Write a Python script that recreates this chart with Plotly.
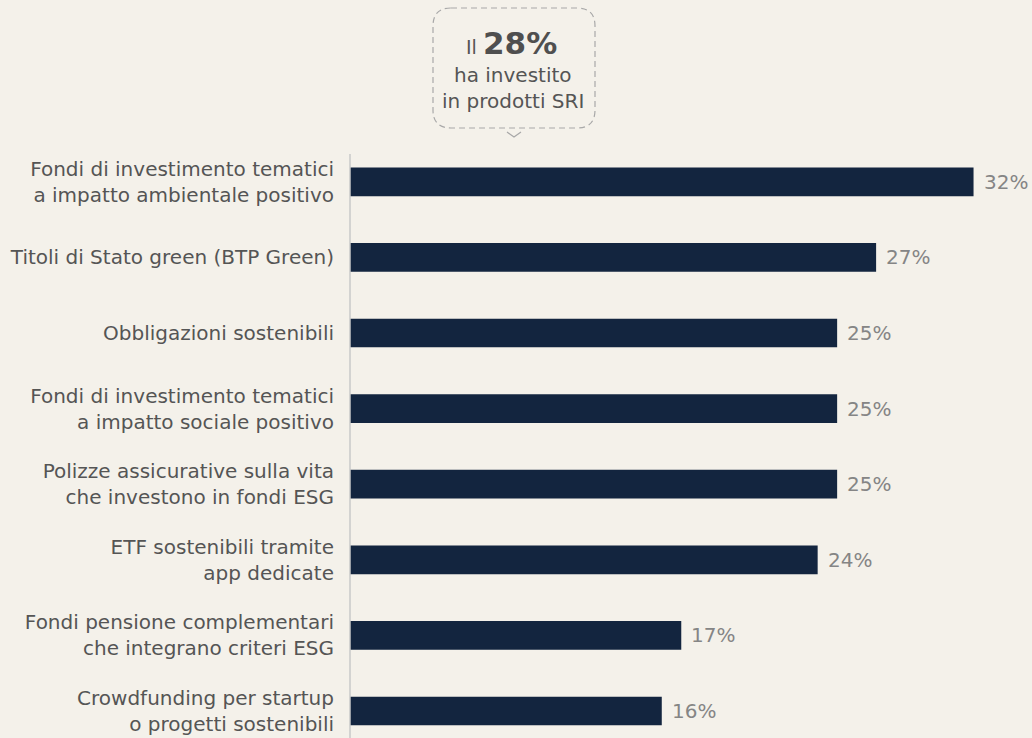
import plotly.graph_objects as go

# Data
categories = [
    "Fondi di investimento tematici<br>a impatto ambientale positivo",
    "Titoli di Stato green (BTP Green)",
    "Obbligazioni sostenibili",
    "Fondi di investimento tematici<br>a impatto sociale positivo",
    "Polizze assicurative sulla vita<br>che investono in fondi ESG",
    "ETF sostenibili tramite<br>app dedicate",
    "Fondi pensione complementari<br>che integrano criteri ESG",
    "Crowdfunding per startup<br>o progetti sostenibili",
]
values = [32, 27, 25, 25, 25, 24, 17, 16]
value_labels = ["32%", "27%", "25%", "25%", "25%", "24%", "17%", "16%"]

BG = "#F4F1EA"
BAR = "#13253F"
LABEL = "#555555"
VALUE = "#858585"
FONT = "DejaVu Sans, sans-serif"

W, H = 1032, 738
L, T = 350, 144
PW, PH = W - L, H - T


def px(x):
    return (x - L) / PW


def py(y):
    return (H - y) / PH


fig = go.Figure()
fig.add_trace(go.Bar(
    y=categories,
    x=values,
    orientation="h",
    width=0.38,
    marker=dict(color=BAR, line=dict(width=0)),
    hoverinfo="skip",
))

# value labels next to bars
for cat, v, lab in zip(categories, values, value_labels):
    fig.add_annotation(
        x=v, y=cat, text=lab, showarrow=False,
        xanchor="left", xshift=8,
        font=dict(size=20, color=VALUE, family=FONT),
    )

# vertical axis line
fig.add_shape(type="line", xref="paper", yref="paper",
              x0=0, x1=0, y0=py(154), y1=0,
              line=dict(color="#C9C9C9", width=1.5))

# callout box (rounded, dashed)
x0, x1, y0, y1, r = 433, 595, 8, 128, 18
pts = [
    f"M {px(x0 + r)} {py(y0)}",
    f"L {px(x1 - r)} {py(y0)}",
    f"Q {px(x1)} {py(y0)} {px(x1)} {py(y0 + r)}",
    f"L {px(x1)} {py(y1 - r)}",
    f"Q {px(x1)} {py(y1)} {px(x1 - r)} {py(y1)}",
    f"L {px(x0 + r)} {py(y1)}",
    f"Q {px(x0)} {py(y1)} {px(x0)} {py(y1 - r)}",
    f"L {px(x0)} {py(y0 + r)}",
    f"Q {px(x0)} {py(y0)} {px(x0 + r)} {py(y0)}",
]
fig.add_shape(type="path", xref="paper", yref="paper", path=" ".join(pts),
              line=dict(color="#A8A8A8", width=1.2, dash="6px,4px"))
fig.add_shape(type="path", xref="paper", yref="paper",
              path=f"M {px(507)} {py(132)} L {px(514)} {py(137)} L {px(521)} {py(132)}",
              line=dict(color="#A8A8A8", width=1.2))

fig.add_annotation(xref="paper", yref="paper", x=px(479), y=py(47),
                   text="Il", showarrow=False, xanchor="right", yanchor="middle",
                   font=dict(size=19, color=LABEL, family=FONT))
fig.add_annotation(xref="paper", yref="paper", x=px(481), y=py(43),
                   text="<b>28%</b>", showarrow=False, xanchor="left", yanchor="middle",
                   font=dict(size=31, color="#4F4F4F", family=FONT))
fig.add_annotation(xref="paper", yref="paper", x=px(513), y=py(75),
                   text="ha investito", showarrow=False, xanchor="center", yanchor="middle",
                   font=dict(size=20, color=LABEL, family=FONT))
fig.add_annotation(xref="paper", yref="paper", x=px(513), y=py(101),
                   text="in prodotti SRI", showarrow=False, xanchor="center", yanchor="middle",
                   font=dict(size=20, color=LABEL, family=FONT))

fig.update_layout(
    width=W, height=H,
    margin=dict(l=L, r=0, t=T, b=0, pad=0),
    paper_bgcolor=BG, plot_bgcolor=BG,
    showlegend=False,
    bargap=0.62,
    xaxis=dict(range=[0, 35], visible=False, fixedrange=True),
    yaxis=dict(
        type="category",
        range=[7.357, -0.5],
        showgrid=False, zeroline=False, showline=False,
        ticks="", ticklabelstandoff=15,
        tickfont=dict(size=20, color=LABEL, family=FONT),
        fixedrange=True,
    ),
)

fig.write_html(
    "out.html",
    config={"displayModeBar": False},
    post_script="document.body.style.margin='0';",
)
